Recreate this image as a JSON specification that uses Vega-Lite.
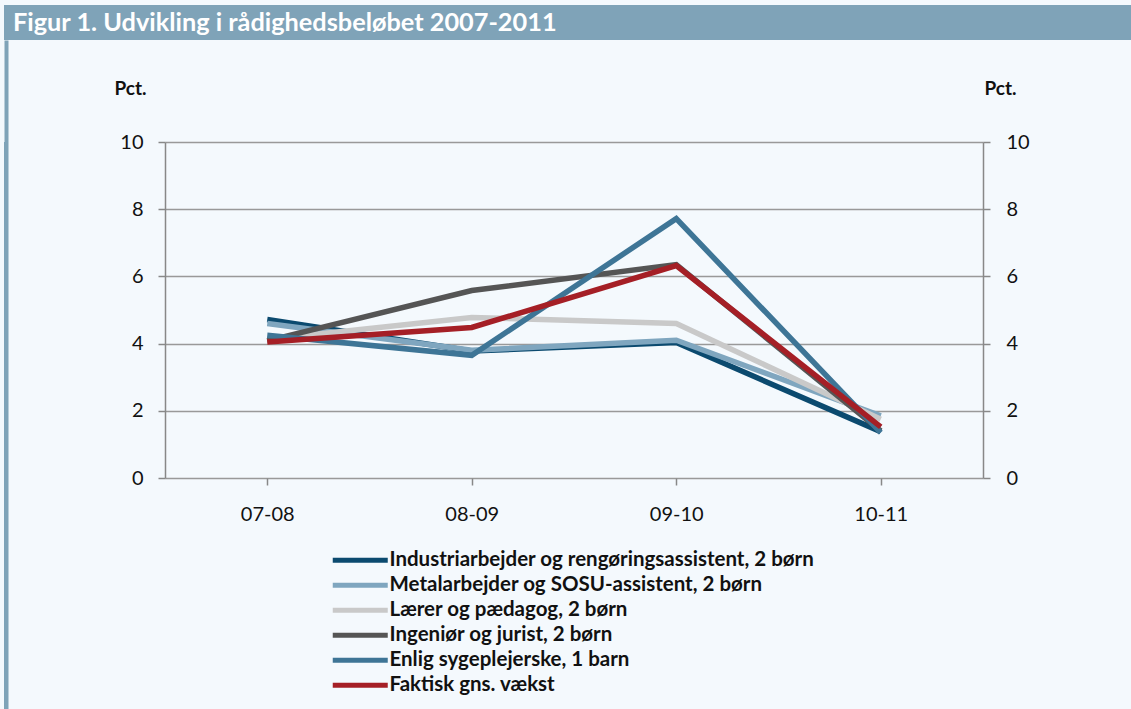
{
  "$schema": "https://vega.github.io/schema/vega-lite/v6.json",
  "background": "#f4f9fd",
  "padding": {"left": 3, "top": 5, "right": 0, "bottom": 0},
  "config": {"view": {"stroke": null}, "font": "Lato"},
  "spacing": -3,
  "vconcat": [
    {
      "width": 1128,
      "height": 35,
      "view": {"fill": "#7fa3b8", "stroke": null},
      "data": {"values": [{"t": "Figur 1. Udvikling i rådighedsbeløbet 2007-2011"}]},
      "mark": {"type": "text", "align": "left", "baseline": "middle", "font": "Lato", "fontSize": 25.3, "fontWeight": "bold", "color": "#ffffff"},
      "encoding": {"text": {"field": "t"}, "x": {"value": 9}, "y": {"value": 18}}
    },
    {
      "spacing": 104,
      "hconcat": [
        {
          "width": 4,
          "height": 567,
          "view": {"fill": "#7fa3b8", "stroke": null},
          "data": {"values": [{"v": 0}, {"v": 1}]},
          "mark": {"type": "point", "opacity": 0},
          "encoding": {
            "y": {"field": "v", "type": "quantitative", "scale": {"domain": [0, 1], "range": [567, -102]},
              "axis": {"orient": "left", "offset": -2, "title": null, "labels": false, "ticks": false, "grid": false, "domainColor": "#7fa3b8", "domainWidth": 4, "domainCap": "butt"}
            }
          }
        },
        {
          "width": 818,
          "height": 336,
          "data": {"values": [
            {"period": "07-08", "series": "Industriarbejder og rengøringsassistent, 2 børn", "value": 4.72},
            {"period": "08-09", "series": "Industriarbejder og rengøringsassistent, 2 børn", "value": 3.78},
            {"period": "09-10", "series": "Industriarbejder og rengøringsassistent, 2 børn", "value": 4.03},
            {"period": "10-11", "series": "Industriarbejder og rengøringsassistent, 2 børn", "value": 1.38},
            {"period": "07-08", "series": "Metalarbejder og SOSU-assistent, 2 børn", "value": 4.6},
            {"period": "08-09", "series": "Metalarbejder og SOSU-assistent, 2 børn", "value": 3.8},
            {"period": "09-10", "series": "Metalarbejder og SOSU-assistent, 2 børn", "value": 4.1},
            {"period": "10-11", "series": "Metalarbejder og SOSU-assistent, 2 børn", "value": 1.85},
            {"period": "07-08", "series": "Lærer og pædagog, 2 børn", "value": 4.12},
            {"period": "08-09", "series": "Lærer og pædagog, 2 børn", "value": 4.78},
            {"period": "09-10", "series": "Lærer og pædagog, 2 børn", "value": 4.6},
            {"period": "10-11", "series": "Lærer og pædagog, 2 børn", "value": 1.75},
            {"period": "07-08", "series": "Ingeniør og jurist, 2 børn", "value": 4.08},
            {"period": "08-09", "series": "Ingeniør og jurist, 2 børn", "value": 5.58},
            {"period": "09-10", "series": "Ingeniør og jurist, 2 børn", "value": 6.35},
            {"period": "10-11", "series": "Ingeniør og jurist, 2 børn", "value": 1.4},
            {"period": "07-08", "series": "Enlig sygeplejerske, 1 barn", "value": 4.25},
            {"period": "08-09", "series": "Enlig sygeplejerske, 1 barn", "value": 3.65},
            {"period": "09-10", "series": "Enlig sygeplejerske, 1 barn", "value": 7.72},
            {"period": "10-11", "series": "Enlig sygeplejerske, 1 barn", "value": 1.35},
            {"period": "07-08", "series": "Faktisk gns. vækst", "value": 4.05},
            {"period": "08-09", "series": "Faktisk gns. vækst", "value": 4.48},
            {"period": "09-10", "series": "Faktisk gns. vækst", "value": 6.32},
            {"period": "10-11", "series": "Faktisk gns. vækst", "value": 1.52}
          ]},
          "encoding": {
            "x": {
              "field": "period", "type": "nominal", "title": null,
              "scale": {"paddingInner": 0, "paddingOuter": 0},
              "axis": {"labelAngle": 0, "labelFontSize": 20, "labelColor": "#111111", "labelFont": "Lato", "labelPadding": 19, "bandPosition": 0, "tickSize": 7, "tickColor": "#888888", "tickWidth": 1.5, "domain": false, "grid": false}
            },
            "color": {
              "field": "series", "type": "nominal",
              "scale": {
                "domain": ["Industriarbejder og rengøringsassistent, 2 børn", "Metalarbejder og SOSU-assistent, 2 børn", "Lærer og pædagog, 2 børn", "Ingeniør og jurist, 2 børn", "Enlig sygeplejerske, 1 barn", "Faktisk gns. vækst"],
                "range": ["#0b4a6f", "#7fa6bf", "#c9c9c9", "#555555", "#3e7596", "#a51f26"]
              },
              "legend": {
                "title": null, "orient": "none", "legendX": 346, "legendY": 545, "direction": "vertical",
                "symbolType": "M-5,0H5", "symbolSize": 121, "symbolStrokeWidth": 5, "symbolOffset": 0,
                "labelFontSize": 20.5, "labelFontWeight": "bold", "labelFont": "Lato", "labelColor": "#111111", "labelOffset": 19, "rowPadding": 4, "labelLimit": 700
              }
            }
          },
          "layer": [
            {
              "mark": {"type": "line", "strokeWidth": 5.5, "strokeJoin": "miter", "strokeCap": "butt"},
              "encoding": {
                "y": {"field": "value", "type": "quantitative", "scale": {"domain": [0, 10]},
                  "axis": {"values": [0, 2, 4, 6, 8, 10], "title": "Pct.", "titleAngle": 0, "titleFont": "Lato", "titleFontSize": 19, "titleFontWeight": "bold", "titleColor": "#111111", "titleAlign": "center", "titleBaseline": "middle", "titleX": -35, "titleY": -54,
                    "labelFontSize": 20, "labelFont": "Lato", "labelColor": "#111111", "labelPadding": 15, "tickSize": 7, "tickColor": "#888888", "tickWidth": 1.5, "domainColor": "#888888", "domainWidth": 1.5, "grid": true, "gridColor": "#999999", "gridWidth": 1.5}
                }
              }
            },
            {
              "mark": {"type": "line", "strokeWidth": 5.5, "opacity": 0},
              "encoding": {
                "y": {"field": "value", "type": "quantitative", "scale": {"domain": [0, 10]},
                  "axis": {"orient": "right", "values": [0, 2, 4, 6, 8, 10], "title": "Pct.", "titleAngle": 0, "titleFont": "Lato", "titleFontSize": 19, "titleFontWeight": "bold", "titleColor": "#111111", "titleAlign": "center", "titleBaseline": "middle", "titleX": 17, "titleY": -54,
                    "labelFontSize": 20, "labelFont": "Lato", "labelColor": "#111111", "labelPadding": 16, "tickSize": 7, "tickColor": "#888888", "tickWidth": 1.5, "domainColor": "#888888", "domainWidth": 1.5, "grid": false}
                }
              }
            }
          ],
          "resolve": {"scale": {"y": "independent"}}
        }
      ]
    }
  ]
}
